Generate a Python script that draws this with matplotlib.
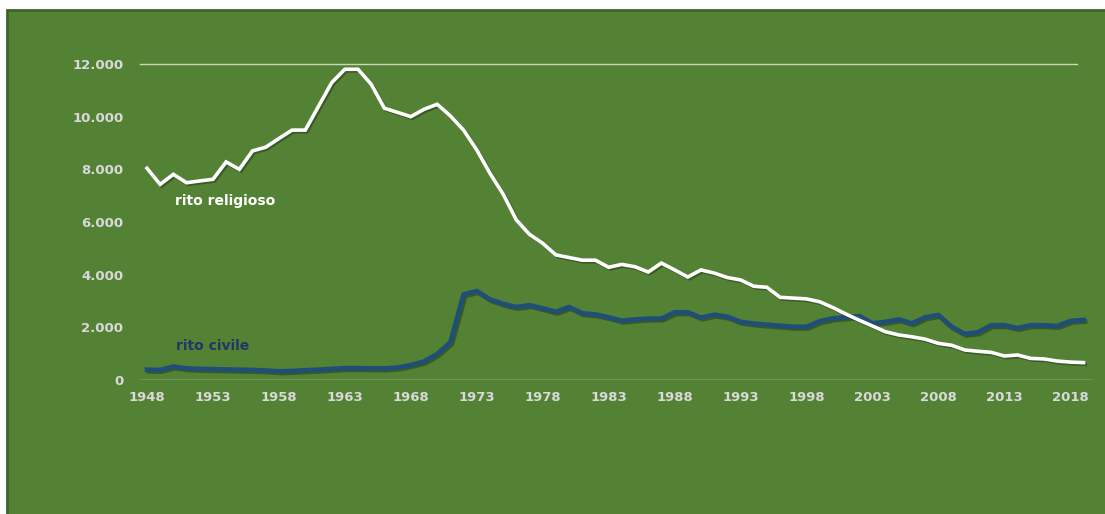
import numpy as np
import matplotlib
matplotlib.use("Agg")
import matplotlib.pyplot as plt
import matplotlib.patheffects as pe
from matplotlib.patches import Rectangle

# Data
years = list(range(1948, 2020))
religioso = [8040, 7430, 7810, 7490, 7560, 7620, 8280, 8000, 8700, 8840,
             9170, 9490, 9490, 10390, 11290, 11800, 11800, 11230, 10320, 10160,
             10000, 10280, 10470, 10030, 9490, 8740, 7850, 7060, 6080, 5530,
             5190, 4750, 4650, 4550, 4550, 4280, 4390, 4300, 4100, 4440,
             4180, 3910, 4180, 4060, 3890, 3800, 3560, 3520, 3140, 3110,
             3080, 2970, 2750, 2500, 2270, 2050, 1830, 1710, 1640, 1550,
             1390, 1320, 1140, 1090, 1050, 910, 950, 820, 800, 720,
             680, 660]
civile = [390, 380, 510, 440, 420, 410, 400, 390, 380, 360,
          330, 340, 370, 390, 420, 450, 450, 440, 440, 470,
          570, 700, 990, 1430, 3250, 3380, 3060, 2890, 2770, 2840,
          2720, 2590, 2770, 2530, 2490, 2380, 2250, 2300, 2330, 2330,
          2570, 2570, 2370, 2480, 2400, 2210, 2140, 2100, 2060, 2020,
          2020, 2230, 2340, 2380, 2430, 2150, 2210, 2300, 2150, 2380,
          2470, 2020, 1750, 1810, 2080, 2080, 1970, 2080, 2080, 2050,
          2240, 2280]
ytick_vals = [0, 2000, 4000, 6000, 8000, 10000, 12000]
xtick_years = list(range(1948, 2019, 5))

bg = "#548235"
label_col = "#D9D9D9"

W, H = 1105, 514
fig = plt.figure(figsize=(W / 100, H / 100), dpi=100)
fig.patch.set_facecolor("white")

# green panel with darker border (only top/left edges fall inside the image)
panel = Rectangle((7 / W, -0.1), 1.2, (H - 10) / H + 0.1, transform=fig.transFigure,
                  facecolor=bg, edgecolor="#3E6327", linewidth=2, zorder=-5)
fig.patches.append(panel)

# axes placement in pixels
x0, x1 = 140, 1093
y0, y1 = 380, 64
ax = fig.add_axes([x0 / W, (H - y0) / H, (x1 - x0) / W, (y0 - y1) / H])
ax.set_zorder(1)
ax.set_facecolor("none")
for s in ax.spines.values():
    s.set_visible(False)

ax.set_xlim(1947.47, 2019.72)
ax.set_ylim(0, 12000)

# 12.000 gridline and baseline
ax.plot([1947.47, 2018.5], [12000, 12000], color="#C9D9BD", lw=1, clip_on=False)
ax.axhline(0, color="#C9D9BD", lw=1)

shadow = [pe.SimpleLineShadow(offset=(1.2, -1.2), shadow_color="black", alpha=0.3),
          pe.Normal()]
ax.plot(years, civile, color="#1F4E79", lw=3.4, solid_joinstyle="round",
        path_effects=shadow, zorder=3)
ax.plot(years, religioso, color="white", lw=2.6, solid_joinstyle="miter",
        path_effects=shadow, zorder=4)

ax.set_xticks(xtick_years)
ax.set_xticklabels([str(y) for y in xtick_years])
ax.set_yticks(ytick_vals)
ax.set_yticklabels([f"{v:,}".replace(",", ".") for v in ytick_vals])
ax.tick_params(axis="both", length=0, colors=label_col, labelsize=9.5)
ax.tick_params(axis="y", pad=12)
ax.tick_params(axis="x", pad=8)
for lab in ax.get_xticklabels() + ax.get_yticklabels():
    lab.set_fontweight("bold")
    lab.set_color(label_col)

ax.text(1950.1, 6800, "rito religioso", color="white", fontsize=10,
        fontweight="bold", va="center", ha="left")
ax.text(1950.2, 1300, "rito civile", color="#1F3864", fontsize=10,
        fontweight="bold", va="center", ha="left")

fig.savefig("out.png", dpi=100, facecolor=fig.get_facecolor())
